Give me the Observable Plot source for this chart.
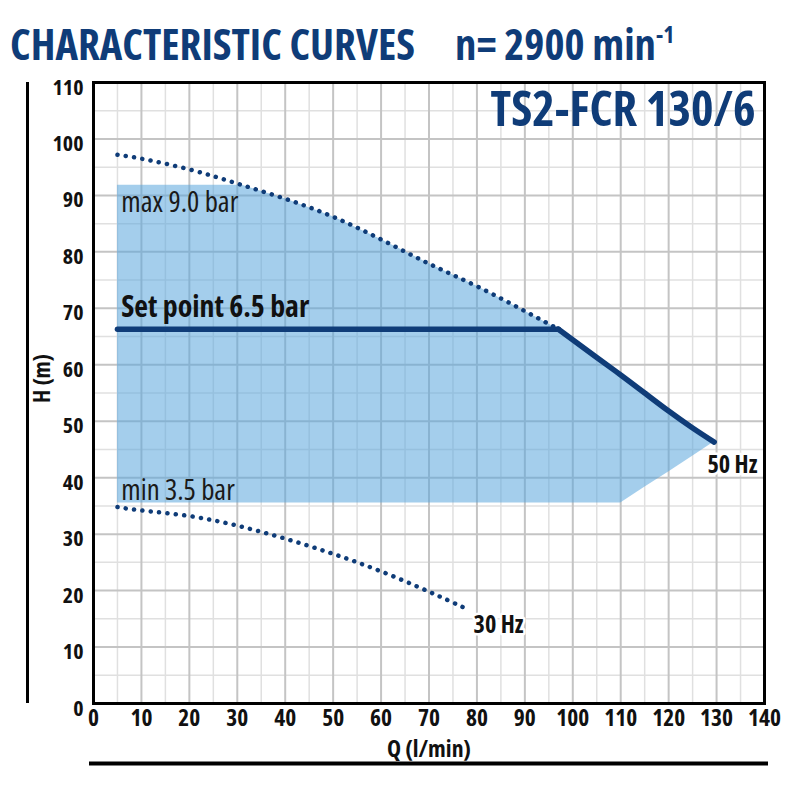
<!DOCTYPE html>
<html>
<head>
<meta charset="utf-8">
<script src="https://cdn.jsdelivr.net/npm/d3@7"></script>
<script src="https://cdn.jsdelivr.net/npm/@observablehq/plot@0.6"></script>
<style>
  body { margin: 0; background: #fff; }
  #title {
    height: 72px; box-sizing: border-box; padding: 27px 0 0 10px;
    font-weight: bold; line-height: 34px; color: #0f3c78;
    white-space: nowrap;
  }
  #title > span { display: inline-block; height: 34px; line-height: 34px; vertical-align: top; }
  #title .sup { position: relative; }
</style>
</head>
<body>
<div id="title"><span id="t1">CHARACTERISTIC CURVES</span><span id="t2">n= 2900 min<span class="sup" id="sup">-1</span></span></div>
<div id="chart"></div>
<script>
// Axis ticks
const xTicks = [0, 10, 20, 30, 40, 50, 60, 70, 80, 90, 100, 110, 120, 130, 140];
const yTicks = [0, 10, 20, 30, 40, 50, 60, 70, 80, 90, 100, 110];
const xMinor = [5, 15, 25, 35, 45, 55, 65, 75, 85, 95, 105, 115, 125, 135];
const yMinor = [5, 15, 25, 35, 45, 55, 65, 75, 85, 95, 105];

// Max curve (50 Hz, dotted part)
const maxQ = [5, 10, 20, 30, 40, 50, 60, 70, 80, 90, 97];
const maxH = [97.2, 96.5, 94.6, 92.1, 89.4, 86.2, 82.2, 77.9, 73.9, 69.5, 66.3];

// Set point line
const setQ = [5, 97];
const setH = [66.3, 66.3];

// 50 Hz solid curve
const hz50Q = [97, 105, 110, 115, 120, 125, 129.5];
const hz50H = [66.3, 61.3, 58.2, 55.0, 51.8, 48.8, 46.3];

// Min curve (30 Hz, dotted)
const minQ = [5, 10, 20, 30, 40, 50, 60, 70, 77];
const minH = [34.8, 34.2, 33.2, 31.5, 29.2, 26.5, 23.4, 19.8, 17.1];

// Working area (shaded)
const shadeQ = [5, 31, 40, 50, 60, 70, 80, 90, 97, 105, 110, 115, 120, 125, 129.5];
const shadeTop = [91.8, 91.8, 89.4, 86.2, 82.2, 77.9, 73.9, 69.5, 66.3, 61.3, 58.2, 55.0, 51.8, 48.8, 46.3];
const shadeBottom = [35.5, 35.5, 35.5, 35.5, 35.5, 35.5, 35.5, 35.5, 35.5, 35.5, 35.5, 38.3, 41.0, 43.8, 46.3];

// Annotations
const noteText = ["max 9.0 bar", "Set point 6.5 bar", "min 3.5 bar", "50 Hz", "30 Hz"];
const noteQ = [5.8, 5.8, 5.8, 128.1, 79.3];
const noteH = [88.7, 70.2, 37.6, 42.2, 13.8];

const modelName = "TS2-FCR 130/6";
const xLabel = "Q (l/min)";
const yLabel = "H (m)";

const navy = "#0f3c78";

// ---- pick the narrowest real condensed font available ----
function measure(family, stretch, weight, size, text) {
  const s = document.createElement("span");
  s.style.cssText = `position:absolute;visibility:hidden;white-space:nowrap;font-family:${family};font-stretch:${stretch};font-weight:${weight};font-size:${size}px`;
  s.textContent = text;
  document.body.appendChild(s);
  const w = s.getBoundingClientRect().width;
  s.remove();
  return w;
}
const probe = "CHARACTERISTIC CURVES";
const candidates = [
  {family: '"Open Sans"', stretch: "75%"},
  {family: 'Roboto', stretch: "75%"},
  {family: '"Noto Sans"', stretch: "75%"},
  {family: '"Liberation Sans Narrow"', stretch: "normal", ref: '"Liberation Sans"'},
  {family: '"DejaVu Sans Condensed"', stretch: "normal", ref: '"DejaVu Sans"'}
];
let chosen = candidates[candidates.length - 1];
for (const c of candidates) {
  const w = measure(c.family, c.stretch, "bold", 36, probe);
  const wRef = c.ref ? measure(c.ref, "normal", "bold", 36, probe) : measure(c.family, "normal", "bold", 36, probe);
  if (w < 0.93 * wRef) { chosen = c; break; }
}
const fam = chosen.family + ', "DejaVu Sans Condensed", sans-serif';
const st = chosen.stretch;
function fit(text, weight, base, target) {
  const w = measure(fam, st, weight, base, text);
  const s = base * target / w;
  return Math.max(base * 0.7, Math.min(base * 1.35, s));
}

const fsTitle = fit("CHARACTERISTIC CURVES", "bold", 34, 405);
const fsModel = fit(modelName, "bold", 42, 265);
const fsSet = fit("Set point 6.5 bar", "bold", 26, 188);
const fsNote = fit("max 9.0 bar", "normal", 26, 117);
const fsHz = fit("50 Hz", "bold", 23, 50);
const fsXTick = fit("140", "bold", 23, 33);
const fsYTick = fit("110", "bold", 22, 31);
const fsXLab = fit(xLabel, "bold", 23, 84);
const fsYLab = fit(yLabel, "bold", 23, 49);

const title = document.getElementById("title");
title.style.fontFamily = fam;
title.style.fontStretch = st;
title.style.fontSize = fsTitle + "px";
const nGap = 455 - 10 - measure(fam, st, "bold", fsTitle, "CHARACTERISTIC CURVES");
document.getElementById("t2").style.marginLeft = Math.max(20, nGap) + "px";
const sup = document.getElementById("sup");
sup.style.fontSize = (fsTitle * 0.55) + "px";
sup.style.top = (-fsTitle * 0.4) + "px";

const maxData = maxQ.map((q, i) => ({q, h: maxH[i]}));
const setData = setQ.map((q, i) => ({q, h: setH[i]}));
const hz50Data = hz50Q.map((q, i) => ({q, h: hz50H[i]}));
const minData = minQ.map((q, i) => ({q, h: minH[i]}));
const shadeData = shadeQ.map((q, i) => ({q, top: shadeTop[i], bottom: shadeBottom[i]}));
const notes = noteText.map((t, i) => ({t, q: noteQ[i], h: noteH[i]}));

const chart = Plot.plot({
  width: 800,
  height: 728,
  marginTop: 10,
  marginBottom: 97,
  marginLeft: 93,
  marginRight: 36,
  style: {fontFamily: fam, background: "#fff", overflow: "visible"},
  x: {domain: [0, 140]},
  y: {domain: [0, 110]},
  marks: [
    Plot.ruleX(xMinor, {stroke: "#e0e0e0", strokeWidth: 1.5}),
    Plot.ruleY(yMinor, {stroke: "#e0e0e0", strokeWidth: 1.5}),
    Plot.ruleX(xTicks, {stroke: "#c4c4c4", strokeWidth: 2}),
    Plot.ruleY(yTicks, {stroke: "#c4c4c4", strokeWidth: 2}),
    Plot.areaY(shadeData, {x: "q", y1: "bottom", y2: "top", fill: "rgb(90,166,220)", fillOpacity: 0.55}),
    Plot.line(maxData, {x: "q", y: "h", curve: "natural", stroke: navy, strokeWidth: 4.5,
      strokeDasharray: "0.1 8.3", strokeLinecap: "round"}),
    Plot.line(minData, {x: "q", y: "h", curve: "natural", stroke: navy, strokeWidth: 4.5,
      strokeDasharray: "0.1 8.3", strokeLinecap: "round"}),
    Plot.line(setData, {x: "q", y: "h", stroke: navy, strokeWidth: 5.5}),
    Plot.line(hz50Data, {x: "q", y: "h", curve: "natural", stroke: navy, strokeWidth: 5.5}),
    Plot.frame({stroke: "black", strokeWidth: 3}),
    Plot.ruleX([0], {y1: 0, y2: 110, dx: -66, stroke: "black", strokeWidth: 3}),
    Plot.ruleY([0], {x1: 0, x2: 140, dy: 60, insetLeft: -4, insetRight: -4, stroke: "black", strokeWidth: 4}),
    Plot.text(notes.filter(d => d.t.startsWith("m")), {x: "q", y: "h", text: "t", textAnchor: "start", lineAnchor: "middle",
      fontSize: fsNote, fill: "#1a1a1a"}),
    Plot.text(notes.filter(d => d.t.startsWith("Set")), {x: "q", y: "h", text: "t", textAnchor: "start", lineAnchor: "middle",
      fontSize: fsSet, fontWeight: "bold", fill: "#111"}),
    Plot.text(notes.filter(d => d.t.endsWith("Hz")), {x: "q", y: "h", text: "t", textAnchor: "start", lineAnchor: "middle",
      fontSize: fsHz, fontWeight: "bold", fill: "#111", stroke: "white", strokeWidth: 5, paintOrder: "stroke"}),
    Plot.text([modelName], {frameAnchor: "top-right", dx: -9, dy: 9, lineAnchor: "top",
      fontSize: fsModel, fontWeight: "bold", fill: navy}),
    Plot.axisX({ticks: xTicks, tickSize: 0, tickPadding: 6, fontSize: fsXTick, fontWeight: "bold", fill: "#111", label: null}),
    Plot.axisY({ticks: yTicks, tickSize: 0, tickPadding: 10, dy: 5, fontSize: fsYTick, fontWeight: "bold", fill: "#111", label: null}),
    Plot.text([xLabel], {frameAnchor: "bottom", dy: 46, lineAnchor: "middle", fontSize: fsXLab, fontWeight: "bold", fill: "#111"}),
    Plot.text([yLabel], {frameAnchor: "left", dx: -51, dy: 10, rotate: -90, lineAnchor: "middle", fontSize: fsYLab, fontWeight: "bold", fill: "#111"})
  ]
});
chart.style.fontFamily = fam;
chart.style.fontStretch = st;
document.getElementById("chart").appendChild(chart);
</script>
</body>
</html>
